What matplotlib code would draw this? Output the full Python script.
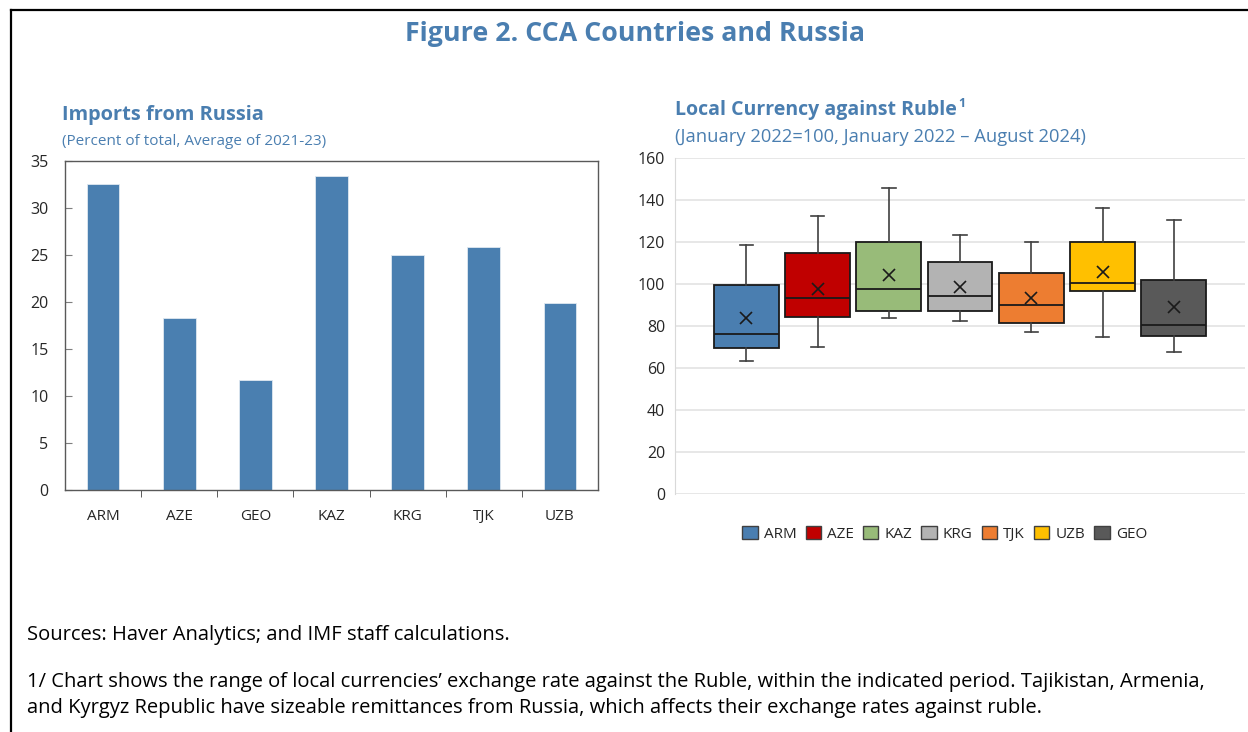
import matplotlib
matplotlib.use("Agg")
import matplotlib.pyplot as plt
from matplotlib.lines import Line2D
from matplotlib.patches import Patch

plt.rcParams['font.family'] = ['Open Sans', 'DejaVu Sans']

# Left panel: imports from Russia (percent of total, average 2021-23)
import_countries = ['ARM', 'AZE', 'GEO', 'KAZ', 'KRG', 'TJK', 'UZB']
import_shares = [32.6, 18.3, 11.7, 33.4, 25.0, 25.8, 19.9]

# Right panel: local currency against ruble (Jan 2022 = 100)
box_countries = ['ARM', 'AZE', 'KAZ', 'KRG', 'TJK', 'UZB', 'GEO']
box_whislo = [63.5, 70.0, 84.0, 82.4, 77.0, 74.9, 67.8]
box_q1 = [69.5, 84.3, 87.0, 87.3, 81.3, 96.5, 75.4]
box_med = [76.3, 93.5, 97.8, 94.2, 90.2, 100.7, 80.5]
box_mean = [83.7, 97.8, 104.5, 98.6, 93.2, 105.8, 88.9]
box_q3 = [99.7, 114.7, 120.2, 110.4, 105.4, 120.2, 102.0]
box_whishi = [118.6, 132.2, 145.7, 123.3, 119.8, 136.0, 130.3]
box_colors = ['#4a7eb0', '#c00000', '#98bb79', '#b3b3b3', '#ed7d31', '#ffc000', '#595959']

TITLE_BLUE = '#4a7eb0'
TEXT = '#262626'

fig = plt.figure(figsize=(12.48, 7.32), dpi=100)

# outer frame (top and left edges visible)
fig.add_artist(Line2D([0.0088, 1.0], [0.9863, 0.9863], transform=fig.transFigure,
                      color='black', lw=1.6))
fig.add_artist(Line2D([0.0088, 0.0088], [0.0, 0.9863], transform=fig.transFigure,
                      color='black', lw=1.6))

fig.text(0.509, 0.954, 'Figure 2. CCA Countries and Russia', ha='center', va='center',
         fontsize=19.3, fontweight='bold', color=TITLE_BLUE)

# ---- left panel ----
ax1 = fig.add_axes([0.0521, 0.3306, 0.4271, 0.4495])
x1 = range(len(import_countries))
ax1.bar(x1, import_shares, width=0.43, color='#4a7fb0', edgecolor='#dfe8f1', linewidth=0.6)
ax1.set_xlim(-0.5, len(import_countries) - 0.5)
ax1.set_ylim(0, 35)
ax1.set_yticks(range(0, 36, 5))
ax1.set_xticks(list(x1))
ax1.set_xticklabels(import_countries)
ax1.set_xticks([i + 0.5 for i in range(len(import_countries) - 1)], minor=True)
ax1.tick_params(axis='x', which='major', length=0, pad=14, labelsize=11, labelcolor=TEXT)
ax1.tick_params(axis='x', which='minor', length=5, direction='out', color='#404040')
ax1.tick_params(axis='y', length=5, direction='in', color='#7f7f7f', labelsize=11.5,
                labelcolor=TEXT, pad=12)
for s in ax1.spines.values():
    s.set_color('#595959')
    s.set_linewidth(1.0)

fig.text(0.0497, 0.843, 'Imports from Russia', ha='left', va='center',
         fontsize=14.4, fontweight='bold', color=TITLE_BLUE)
fig.text(0.0497, 0.807, '(Percent of total, Average of 2021-23)', ha='left', va='center',
         fontsize=11, color=TITLE_BLUE)

# ---- right panel ----
ax2 = fig.add_axes([0.5409, 0.3251, 0.4567, 0.4590])
stats = []
for i, name in enumerate(box_countries):
    stats.append({'label': name, 'whislo': box_whislo[i], 'q1': box_q1[i],
                  'med': box_med[i], 'mean': box_mean[i], 'q3': box_q3[i],
                  'whishi': box_whishi[i], 'fliers': []})
positions = [i + 1 for i in range(len(box_countries))]
bp = ax2.bxp(stats, positions=positions, widths=0.91, capwidths=0.19,
             patch_artist=True, showmeans=True, showfliers=False,
             boxprops=dict(edgecolor='#1a1a1a', linewidth=1.3),
             medianprops=dict(color='#1a1a1a', linewidth=1.3),
             whiskerprops=dict(color='#404040', linewidth=1.2),
             capprops=dict(color='#404040', linewidth=1.2),
             meanprops=dict(marker='x', markeredgecolor='#1a1a1a', markersize=9,
                            markeredgewidth=1.2))
for patch, c in zip(bp['boxes'], box_colors):
    patch.set_facecolor(c)
ax2.set_xlim(0, len(box_countries) + 1)
ax2.set_ylim(0, 160)
ax2.set_yticks(range(0, 161, 20))
ax2.set_xticks([])
ax2.yaxis.grid(True, color='#e3e3e3', linewidth=1.2)
ax2.set_axisbelow(True)
for side in ['top', 'right', 'bottom']:
    ax2.spines[side].set_visible(False)
ax2.spines['left'].set_color('#d9d9d9')
ax2.tick_params(axis='y', length=0, labelsize=11.5, labelcolor=TEXT, pad=7)

fig.text(0.5409, 0.850, 'Local Currency against Ruble', ha='left', va='center',
         fontsize=14, fontweight='bold', color=TITLE_BLUE)
fig.text(0.7675, 0.859, '1', ha='left', va='center',
         fontsize=9, fontweight='bold', color=TITLE_BLUE)
fig.text(0.5409, 0.813, '(January 2022=100, January 2022 \u2013 August 2024)', ha='left',
         va='center', fontsize=13.2, color=TITLE_BLUE)

handles = [Patch(facecolor=c, edgecolor='#404040', linewidth=1.0) for c in box_colors]
fig.legend(handles, box_countries, loc='center', bbox_to_anchor=(0.757, 0.271), ncol=7,
           frameon=False, fontsize=11, handlelength=1.0, handleheight=1.0,
           handletextpad=0.4, columnspacing=0.6, labelcolor=TEXT)

# ---- notes ----
fig.text(0.0216, 0.1325, 'Sources: Haver Analytics; and IMF staff calculations.',
         ha='left', va='center', fontsize=14.5, color='black')
fig.text(0.0216, 0.0683,
         '1/ Chart shows the range of local currencies\u2019 exchange rate against the Ruble, '
         'within the indicated period. Tajikistan, Armenia,',
         ha='left', va='center', fontsize=14.5, color='black')
fig.text(0.0216, 0.0328,
         'and Kyrgyz Republic have sizeable remittances from Russia, which affects their '
         'exchange rates against ruble.',
         ha='left', va='center', fontsize=14.5, color='black')

fig.savefig('out.png', dpi=100)
